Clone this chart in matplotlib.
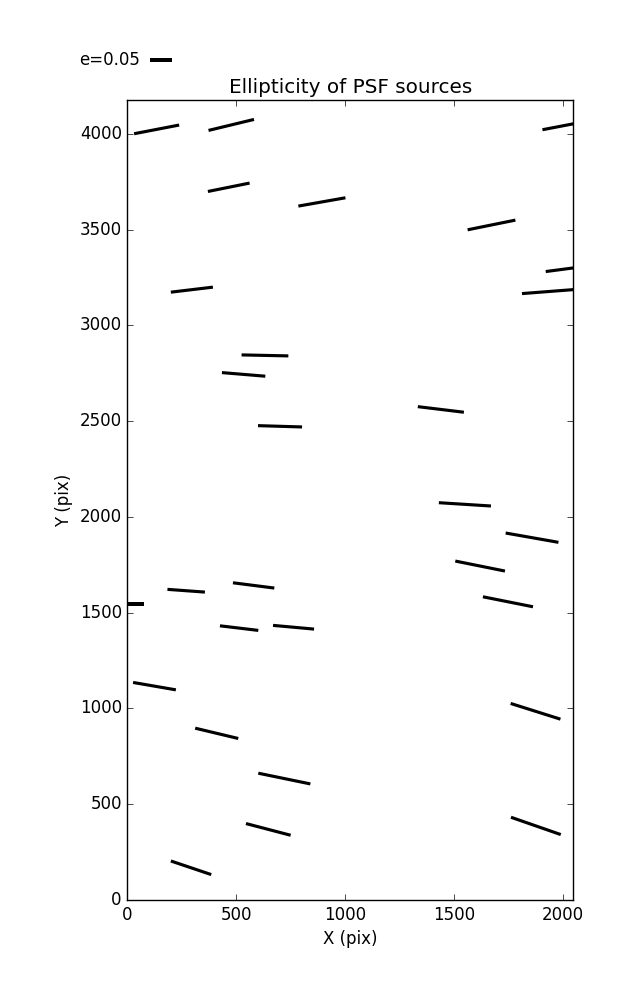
import numpy as np
import matplotlib
matplotlib.use('Agg')
import matplotlib.pyplot as plt

# ---- PSF source positions (pix) and ellipticity components ----
x_pix = [134.3, 477.0, 2012.0, 465.5, 893.3, 1672.3, 2018.0, 296.2, 1938.8,
         631.8, 533.8, 701.0, 1439.7, 1550.1, 1858.6, 1620.1, 1747.9, -15.0,
         270.0, 579.8, 513.1, 763.1, 124.4, 410.3, 720.8, 647.2, 292.3,
         1874.6, 1876.0]
y_pix = [4022.6, 4045.9, 4043.8, 3720.4, 3643.9, 3523.7, 3294.9, 3186.0, 3176.6,
         2842.8, 2743.6, 2472.7, 2560.7, 2065.3, 1891.3, 1743.2, 1556.7, 1545.0,
         1614.4, 1642.1, 1419.3, 1423.8, 1116.3, 870.0, 633.9, 368.5, 168.2,
         985.0, 386.8]
e1 = [0.1035, 0.1044, 0.1058, 0.0957, 0.1081, 0.1097, 0.0966, 0.0966, 0.1265,
      0.1074, 0.0996, 0.1012, 0.1058, 0.1196, 0.1212, 0.1141, 0.1150, 0.0920,
      0.0860, 0.0950, 0.0881, 0.0943, 0.0982, 0.0989, 0.1196, 0.1026, 0.0927,
      0.1143, 0.1143]
e2 = [0.0227, 0.0287, 0.0230, 0.0219, 0.0217, 0.0253, 0.0144, 0.0131, 0.0111,
      -0.0026, -0.0094, -0.0034, -0.0146, -0.0086, -0.0243, -0.0261, -0.0261, 0.0,
      -0.0071, -0.0138, -0.0120, -0.0097, -0.0193, -0.0269, -0.0280, -0.0306, -0.0355,
      -0.0410, -0.0452]

KEY_E = 0.05
SCALE = 0.0005   # ellipticity per pixel of whisker length

plt.style.use('classic')
fig = plt.figure(figsize=(6.37, 10), dpi=100)
fig.subplots_adjust(left=0.2, right=0.9, bottom=0.1, top=0.9)
ax = fig.add_subplot(111)

q = ax.quiver(x_pix, y_pix, e1, e2, pivot='middle', angles='xy',
              scale_units='xy', scale=SCALE, width=0.007,
              headwidth=0, headlength=0, headaxislength=0, color='k')
ax.quiverkey(q, 0.236, 0.94, KEY_E, 'e=%.2f' % KEY_E, coordinates='figure',
             labelpos='W')

ax.set_xlim(0, 2048)
ax.set_ylim(0, 4176)
ax.set_xticks(np.arange(0, 2001, 500))
ax.set_yticks(np.arange(0, 4001, 500))
ax.set_xlabel('X (pix)')
ax.set_ylabel('Y (pix)')
ax.set_title('Ellipticity of PSF sources')

fig.savefig('out.png', dpi=100, facecolor='white')
